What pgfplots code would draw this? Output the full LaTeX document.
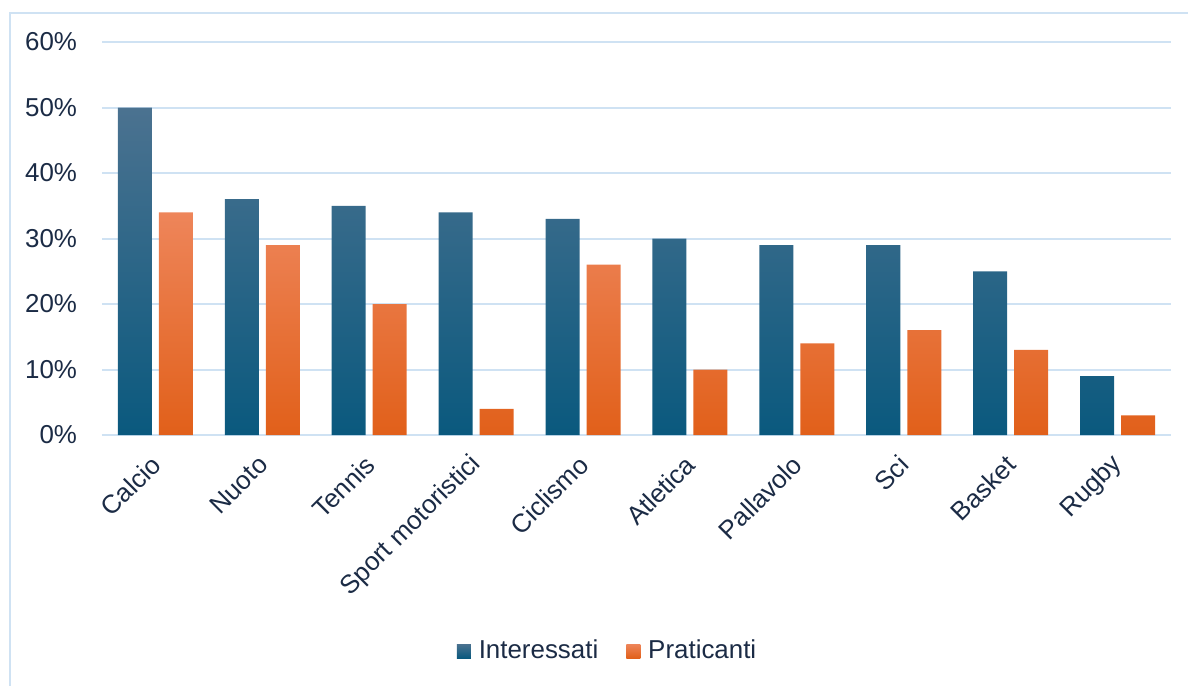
\documentclass[border=0pt]{standalone}
\usepackage{pgfplots}
\pgfplotsset{compat=1.18}
\usepackage{fontspec}
\setmainfont{Liberation Sans}
\definecolor{txt}{HTML}{1B2B45}
\definecolor{gridc}{HTML}{CFE2F3}
\definecolor{btop}{HTML}{4B7290}
\definecolor{bmid}{HTML}{146A90}
\definecolor{bbot}{HTML}{0A597E}
\definecolor{otop}{HTML}{EE855A}
\definecolor{omid}{HTML}{F07028}
\definecolor{obot}{HTML}{E1601A}
\begin{document}
\begin{tikzpicture}
\begin{axis}[
  at={(0,0)}, anchor=south west,
  scale only axis,
  width=534.5bp, height=196.5bp,
  xmin=-0.5, xmax=9.5, ymin=0, ymax=60,
  ybar=3.5bp, bar width=17bp,
  xtick={0,...,9},
  xticklabels={Calcio,Nuoto,Tennis,Sport motoristici,Ciclismo,Atletica,Pallavolo,Sci,Basket,Rugby},
  ytick={0,10,...,60},
  yticklabel={\pgfmathprintnumber{\tick}\%},
  /pgf/number format/assume math mode=true,
  major tick length=0pt,
  ymajorgrids,
  grid style={gridc, line width=1bp},
  axis x line*=bottom, axis y line*=left,
  x axis line style={gridc, line width=1bp, -},
  y axis line style={draw=none},
  ticklabel style={font=\fontsize{13}{15}\selectfont, text=txt},
  xticklabel style={rotate=45, anchor=east, xshift=4bp},
  xticklabel shift=13bp,
  yticklabel style={xshift=-9bp},
  legend style={at={(253.25bp,-108bp)}, anchor=center, draw=none, fill=none,
    legend columns=2, font=\fontsize{13}{15}\selectfont, text=txt,
    /tikz/every even column/.append style={column sep=12bp}},
  legend image code/.code={\path[#1] (0bp,-3.5bp) rectangle (7bp,3.5bp); \path (0bp,0bp) -- (9bp,0bp);},
]
\addplot[draw=none, top color=btop, middle color=bmid, bottom color=bbot]
  coordinates {(0,50) (1,36) (2,35) (3,34) (4,33) (5,30) (6,29) (7,29) (8,25) (9,9)};
\addplot[draw=none, top color=otop, middle color=omid, bottom color=obot]
  coordinates {(0,34) (1,29) (2,20) (3,4) (4,26) (5,10) (6,14) (7,16) (8,13) (9,3)};
\legend{Interessati,Praticanti}
\end{axis}
\draw[gridc, line width=1bp] (-46bp,-130bp) -- (-46bp,211bp) -- (550bp,211bp);
\pgfresetboundingbox
\useasboundingbox (-51bp,-125.5bp) rectangle (543bp,217.5bp);
\end{tikzpicture}
\end{document}
